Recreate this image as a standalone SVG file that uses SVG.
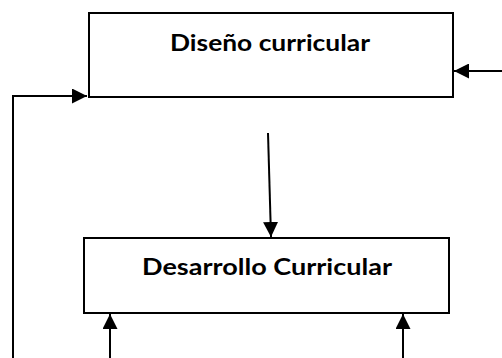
<svg xmlns="http://www.w3.org/2000/svg" width="502" height="358" viewBox="0 0 502 358">
<style>
.box{fill:#fff;stroke:#000;stroke-width:2}
.lbl{font-family:Lato,"Open Sans","Liberation Sans",sans-serif;font-weight:bold;font-size:22px;fill:#000;text-anchor:middle}
.ln{fill:none;stroke:#000;stroke-width:2}
</style>
<defs>
<marker id="ah" markerWidth="15" markerHeight="15" viewBox="0 0 15 15" refX="15" refY="7.5" orient="auto" markerUnits="userSpaceOnUse">
<path d="M0,0 L15,7.5 L0,15 Z" fill="#000"/>
</marker>
</defs>
<rect width="502" height="358" fill="#fff"/>
<g id="diseno">
<rect class="box" x="89" y="13" width="364" height="84"/>
<text class="lbl" x="270" y="51" textLength="200" lengthAdjust="spacingAndGlyphs">Diseño curricular</text>
</g>
<g id="desarrollo">
<rect class="box" x="84" y="238" width="365" height="75"/>
<text class="lbl" x="267" y="275" textLength="250" lengthAdjust="spacingAndGlyphs">Desarrollo Curricular</text>
</g>
<g id="connectors">
<path class="ln" d="M502,71 L454,71" marker-end="url(#ah)"/>
<path class="ln" d="M13,358 L13,96 L87,96" marker-end="url(#ah)"/>
<path class="ln" d="M268,133 L271,237" marker-end="url(#ah)"/>
<path class="ln" d="M110,358 L110,314" marker-end="url(#ah)"/>
<path class="ln" d="M403,358 L403,314" marker-end="url(#ah)"/>
</g>
</svg>
